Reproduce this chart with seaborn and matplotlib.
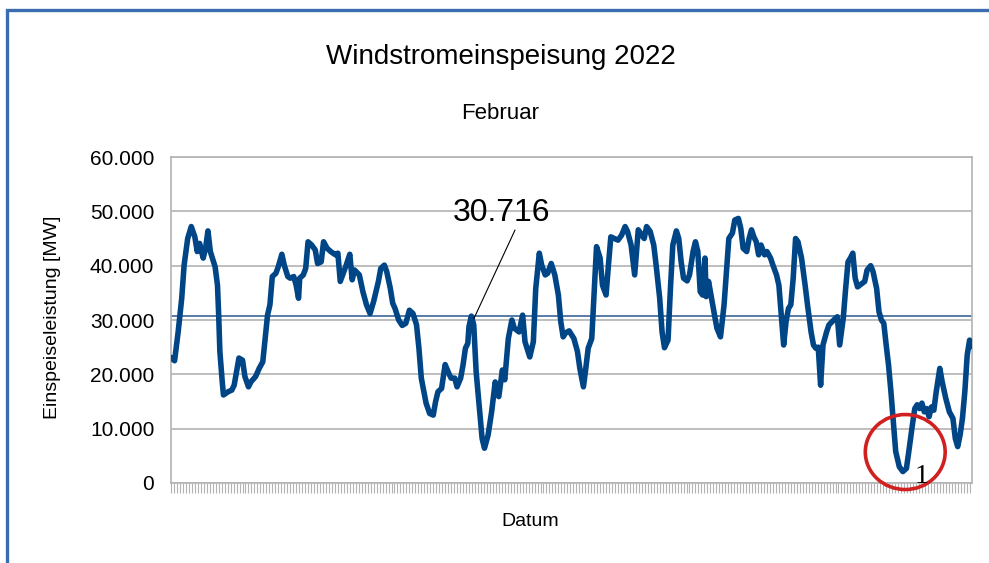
import numpy as np
import pandas as pd
import matplotlib
matplotlib.use("Agg")
import matplotlib.pyplot as plt
from matplotlib.patches import Ellipse, Rectangle
import seaborn as sns

# Stunden seit 1. Februar 00:00 und Einspeisung in MW
stunden = [
    0, 3, 6, 9, 11, 14, 17, 20, 22, 24, 27, 29, 31, 33, 37, 39, 40, 41, 43, 44,
    48, 51, 53, 55, 57, 60, 62, 65, 67, 71, 74, 77, 79, 81, 83, 85, 88, 90, 93, 95,
    98, 100, 103, 105, 107, 108, 111, 113, 115, 118, 121, 123, 126, 128, 131, 134, 138, 140, 142, 145,
    147, 150, 152, 154, 158, 161, 164, 167, 170, 174, 176, 179, 181, 184, 186, 188, 191, 194, 197, 200,
    203, 206, 208, 210, 214, 217, 220, 222, 224, 227, 230, 233, 235, 238, 240, 243, 245, 247, 249, 250,
    252, 254, 256, 259, 261, 263, 266, 269, 272, 275, 278, 280, 283, 286, 288, 292, 295, 297, 301, 304,
    306, 309, 311, 314, 316, 319, 322, 325, 327, 329, 331, 334, 338, 341, 343, 346, 348, 350, 353, 355,
    357, 360, 362, 365, 367, 369, 372, 375, 378, 381, 383, 386, 389, 392, 395, 397, 399, 402, 405, 407,
    410, 412, 414, 417, 419, 421, 424, 426, 428, 430, 433, 435, 438, 440, 442, 444, 446, 448, 449, 451,
    453, 456, 458, 461, 464, 466, 468, 471, 473, 476, 478, 480, 483, 485, 487, 489, 491, 493, 495, 498,
    500, 503, 505, 508, 510, 512, 514, 516, 518, 520, 522, 524, 526, 529, 532, 534, 537, 539, 541, 543,
    545, 547, 550, 552, 556, 559, 561, 564, 566, 568, 570, 572, 574, 576, 579, 582, 584, 587, 589, 592,
    594, 596, 598, 600, 602, 604, 606, 608, 611, 614, 617, 619, 622, 624, 626, 628, 630, 632, 634, 636,
    638, 640, 642, 645, 647, 650, 653, 656, 658, 660, 662, 664, 666, 668, 670, 671,
]
leistung = [
    23100, 22500, 27800, 34000, 40100, 45000, 47200, 45300, 42600, 44100, 41400, 43200, 46400, 42600, 39800, 36400, 30900, 24200, 18600, 16200,
    16800, 17100, 18000, 20500, 23000, 22600, 19600, 17700, 18600, 19600, 21100, 22300, 26600, 30900, 32800, 38000, 38600, 39800, 42100, 40100,
    38000, 37700, 38000, 36400, 34000, 37700, 38300, 39500, 44400, 43800, 42900, 40400, 40700, 44400, 43200, 42600, 42000, 42300, 37100, 38900,
    40100, 42100, 37400, 39200, 38300, 35200, 32800, 31200, 33400, 37100, 39500, 40100, 38900, 35800, 33100, 32100, 30000, 29000, 29400, 31800,
    31200, 29100, 24800, 19300, 14700, 12800, 12500, 15000, 16800, 17400, 21800, 20200, 19300, 19300, 17700, 19300, 21700, 24800, 25700, 28800,
    30716, 29100, 20500, 13100, 8200, 6400, 8800, 13100, 18600, 15900, 20800, 19000, 26600, 30000, 28500, 27800, 30900, 26000, 23200, 26000,
    35800, 42300, 40100, 38300, 38600, 40400, 38300, 34600, 29700, 26900, 27600, 28000, 26600, 24200, 21100, 17700, 21100, 24800, 26600, 35200,
    43500, 41400, 36400, 34600, 40100, 45300, 45000, 44700, 45600, 47200, 46300, 43800, 38300, 46600, 45600, 45000, 47200, 46300, 43800, 40100,
    34000, 27800, 24900, 26300, 35800, 43800, 46400, 45000, 40700, 37700, 37200, 38300, 42600, 44400, 42600, 35200, 34600, 41400, 34300, 37100,
    34600, 30900, 28500, 26900, 32800, 38900, 45000, 46000, 48400, 48700, 46900, 43200, 42600, 45000, 46600, 45300, 44400, 42000, 43800, 42000,
    42600, 41400, 40100, 38300, 36400, 30900, 25400, 29700, 32100, 32800, 37700, 45000, 44400, 41400, 36400, 32800, 27800, 25400, 24800, 25000,
    18000, 25400, 27800, 29100, 30000, 30600, 25400, 30300, 35800, 40700, 41400, 42300, 37700, 36100, 36600, 37100, 39200, 40000, 38900, 35800,
    31500, 30000, 29400, 25400, 21700, 16800, 11300, 5800, 3000, 2100, 2700, 5800, 10700, 13700, 14400, 13700, 14700, 13100, 13700, 12200,
    14000, 13400, 16800, 21100, 18600, 15600, 13100, 11900, 8200, 6700, 8800, 11900, 16800, 23600, 26300, 25100,
]
mittelwert = 30716
spitze_stunde = 252

y_ticks = [0, 10000, 20000, 30000, 40000, 50000, 60000]

df = pd.DataFrame({"Stunde": stunden, "Leistung": leistung})

sns.set_theme(style="whitegrid")
plt.rcParams["font.family"] = ["Liberation Sans", "DejaVu Sans"]
plt.rcParams["text.color"] = "black"
plt.rcParams["ytick.color"] = "black"
plt.rcParams["xtick.color"] = "black"

fig = plt.figure(figsize=(9.89, 5.63), dpi=100)
ax = fig.add_axes([0.1729, 0.1421, 0.8099, 0.5790])
ax.set_facecolor("white")

grau = "#b3b3b3"
ax.axhline(mittelwert, color="#4a72a0", lw=1.3, zorder=2)
sns.lineplot(data=df, x="Stunde", y="Leistung", ax=ax, color="#004586",
             lw=4, zorder=3, solid_joinstyle="round", solid_capstyle="round")

ax.set_xlim(0, 672)
ax.set_ylim(0, 60000)
ax.set_yticks(y_ticks)
ax.set_yticklabels([f"{v:,}".replace(",", ".") for v in y_ticks], fontsize=15, color="black")
ax.set_xticks(np.arange(0, 672, 2.5))
ax.set_xticklabels([])
ax.grid(axis="y", color=grau, lw=1.2)
ax.grid(axis="x", visible=False)
ax.tick_params(axis="y", length=8, width=1, color=grau, direction="out", pad=4, labelcolor="black")
ax.tick_params(axis="x", length=7, width=0.8, color=grau, direction="out", bottom=True)
for s in ax.spines.values():
    s.set_color(grau)
    s.set_linewidth(1.2)
ax.set_xlabel("")
ax.set_ylabel("")

# Beschriftung des Mittelwerts
ax.text(0.413, 0.828, f"{mittelwert:,}".replace(",", "."), transform=ax.transAxes,
        ha="center", va="center", fontsize=23, color="black")
ax.annotate("", xy=(spitze_stunde + 2, mittelwert - 500),
            xytext=(0.4295, 0.776), textcoords="axes fraction",
            arrowprops=dict(arrowstyle="-", color="black", lw=0.8, shrinkA=0, shrinkB=0))

# Markierung des Minimums
i_min = int(np.argmin(leistung))
ax.add_patch(Ellipse((stunden[i_min] + 2, leistung[i_min] + 3600), width=67, height=13800,
                     fill=False, edgecolor="#d02020", lw=2.6, zorder=4, clip_on=False))
ax.text(stunden[i_min] + 10, leistung[i_min] - 900, "1", fontsize=20, color="black",
        family=["Liberation Serif", "DejaVu Serif"], ha="left", va="center", zorder=5)

fig.text(0.506, 0.899, "Windstromeinspeisung 2022", ha="center", va="center", fontsize=20)
fig.text(0.506, 0.799, "Februar", ha="center", va="center", fontsize=16)
fig.text(0.536, 0.074, "Datum", ha="center", va="center", fontsize=14)
fig.text(0.053, 0.437, "Einspeiseleistung [MW]", ha="center", va="center",
         rotation=90, fontsize=14)

# blauer Rahmen
fig.patches.append(Rectangle((0.0068, -0.1), 1.2, 1.1 - 0.0175, transform=fig.transFigure,
                             fill=False, edgecolor="#3a6cb0", lw=2.4))

fig.savefig("out.png", dpi=100)
